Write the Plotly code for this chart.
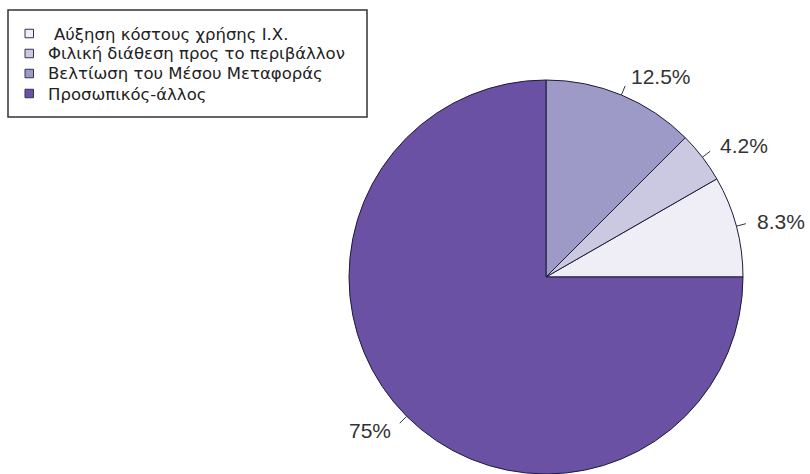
import math
import plotly.graph_objects as go

labels = ["Αύξηση κόστους χρήσης Ι.Χ.", "Φιλική διάθεση προς το περιβάλλον",
          "Βελτίωση του Μέσου Μεταφοράς", "Προσωπικός-άλλος"]
values = [8.3, 4.2, 12.5, 75.0]
colors = ["#efedf5", "#cbc9e2", "#9e9ac8", "#6a51a3"]

W, H = 810, 474
R = 197
cx, cy = 546, H - R  # pixel centre
dom_x = [(cx - R) / W, (cx + R) / W]
dom_y = [0, 2 * R / H]
total = sum(values)

fig = go.Figure(go.Pie(
    labels=labels, values=values, sort=False,
    direction="counterclockwise", rotation=90 - values[0] / total * 360,
    marker=dict(colors=colors, line=dict(color="#1c1c3a", width=1)),
    textinfo="none", hoverinfo="label+percent",
    domain=dict(x=dom_x, y=dom_y), showlegend=False,
))


def px(x):
    return x / W


def py(y):
    return 1 - y / H


cum = 0.0
shapes, annots = [], []
for v in values:
    mid = (cum + v / 2) / total * 2 * math.pi
    cum += v
    c, s = math.cos(mid), math.sin(mid)
    x0, y0 = cx + R * c, cy - R * s
    x1, y1 = cx + 1.05 * R * c, cy - 1.05 * R * s
    xt, yt = cx + 1.1 * R * c, cy - 1.1 * R * s
    shapes.append(dict(type="line", xref="paper", yref="paper",
                       x0=px(x0), y0=py(y0), x1=px(x1), y1=py(y1),
                       line=dict(color="#333333", width=1)))
    annots.append(dict(xref="paper", yref="paper", x=px(xt), y=py(yt),
                       text=f"{v:g}%", showarrow=False,
                       xanchor="left" if c >= 0 else "right", yanchor="middle",
                       font=dict(family="Liberation Sans, Arial", size=21, color="#333333")))

# legend box drawn manually (compact row spacing as in the reference)
shapes.append(dict(type="rect", xref="paper", yref="paper",
                   x0=px(8), x1=px(367), y0=py(10), y1=py(117),
                   line=dict(color="#333333", width=1.5), fillcolor="white", layer="below"))
row0, step = 33.5, 20
for i, (lab, col) in enumerate(zip(labels, colors)):
    yc = row0 + i * step
    shapes.append(dict(type="rect", xref="paper", yref="paper",
                       x0=px(25), x1=px(33.5), y0=py(yc - 4.25), y1=py(yc + 4.25),
                       line=dict(color="#333355", width=1), fillcolor=col))
    annots.append(dict(xref="paper", yref="paper", x=px(53 if i == 0 else 47), y=py(yc + 0.5),
                       text=lab, showarrow=False, xanchor="left", yanchor="middle",
                       borderpad=0,
                       font=dict(family="DejaVu Sans", size=16.5, color="#222222")))

fig.update_layout(
    width=W, height=H,
    margin=dict(l=0, r=0, t=0, b=0),
    paper_bgcolor="white", plot_bgcolor="white",
    shapes=shapes, annotations=annots,
    showlegend=False,
)

fig.write_html("out.html")
